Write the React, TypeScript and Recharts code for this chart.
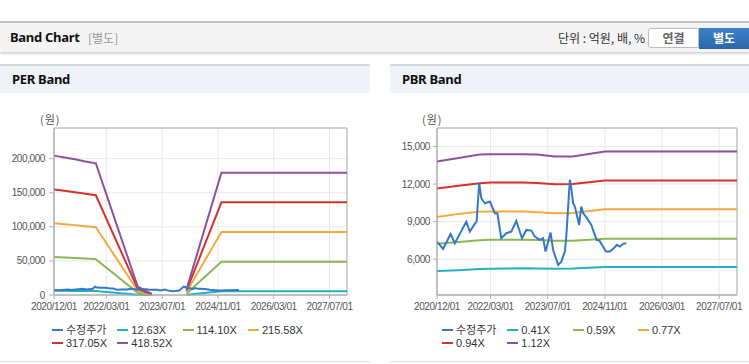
import React from "react";
import { LineChart, Line, XAxis, YAxis, CartesianGrid, ReferenceArea } from "recharts";

// x axis: months counted from 2020/12/01
const tickMonths = [0, 15, 31, 47, 63, 79];
const tickLabels = ["2020/12/01", "2022/03/01", "2023/07/01", "2024/11/01", "2026/03/01", "2027/07/01"];

// 수정주가 (adjusted price)
const priceMonths = [
  0, 1.7, 3.8, 5, 8.2, 9.2, 10.7, 11.1, 11.8, 12.4, 13.4, 14.8, 16.2, 16.9, 18, 19.4, 20.8, 22.2, 23.8, 25,
  26.4, 27.4, 28.8, 29.7, 30.4, 31.8, 32.5, 33.9, 34.8, 35.8, 36.2, 37.2, 37.6, 38.1, 38.6, 39.8, 40.4, 40.9,
  42, 43.2, 44.7, 45.5, 47.3, 48.4, 49.5, 50.4, 51.2, 52.1, 53,
];
const priceValues = [
  7410, 6830, 8020, 7280, 9000, 8210, 8880, 9000, 12100, 10870, 10470, 10600, 9680, 9680, 7680, 8080, 8210, 9050, 7680, 8340,
  8290, 7810, 7550, 7680, 6610, 8130, 6750, 5550, 5810, 6610, 7810, 12340, 11680, 10480, 10210, 8740, 10200, 9680,
  9280, 8740, 7550, 7480, 6610, 6610, 6880, 7150, 7010, 7230, 7280,
];

// PER band
const perMonths = [0, 3, 6, 9, 12, 24, 28, 33, 38, 48, 84];
const perNames = ["12.63X", "114.10X", "215.58X", "317.05X", "418.52X"];
const per1263 = [6170, 6090, 6010, 5910, 5830, 370, 45, null, 250, 5410, 5410];
const per11410 = [55750, 55000, 54260, 53400, 52650, 3330, 410, null, 2280, 48920, 48920];
const per21558 = [105330, 103910, 102510, 100890, 99470, 6300, 780, null, 4310, 92420, 92420];
const per31705 = [154910, 152820, 150760, 148380, 146290, 9260, 1140, null, 6340, 135920, 135920];
const per41852 = [204490, 201730, 199010, 195870, 193100, 12220, 1510, null, 8370, 179420, 179420];
const perTicks = [0, 50000, 100000, 150000, 200000];

// PBR band
const pbrMonths = [0, 6, 12, 15, 24, 28, 33, 38, 47, 84];
const pbrNames = ["0.41X", "0.59X", "0.77X", "0.94X", "1.12X"];
const pbr041 = [5070, 5130, 5220, 5250, 5280, 5260, 5240, 5260, 5380, 5380];
const pbr059 = [7230, 7380, 7520, 7550, 7560, 7540, 7470, 7480, 7640, 7640];
const pbr077 = [9380, 9620, 9800, 9820, 9820, 9760, 9680, 9690, 9980, 9980];
const pbr094 = [11640, 11860, 12060, 12120, 12130, 12080, 11990, 12000, 12290, 12290];
const pbr112 = [13800, 14070, 14350, 14380, 14380, 14350, 14200, 14200, 14600, 14600];
const pbrTicks = [6000, 9000, 12000, 15000];

const PRICE_COLOR = "#3378c9";
const BAND_COLORS = ["#21b1c7", "#8cb654", "#f4a93e", "#d6322c", "#8d51a0"];
const AXIS = "#b0b0b0";
const FONT = '"Noto Sans", "Noto Sans CJK KR", sans-serif';
const NUM_FONT = '"Liberation Sans", Arial, "Noto Sans CJK KR", sans-serif';
const KR_FONT = '"Noto Sans CJK KR", sans-serif';

const toRows = (months: number[], values: (number | null)[]) =>
  months.map((m, i) => ({ m, v: values[i] }));

const fmtDate = (v: number) => tickLabels[tickMonths.indexOf(v)] ?? "";
const fmtNum = (v: number) => v.toLocaleString("en-US");

type Series = { name: string; color: string; rows: { m: number; v: number | null }[] };

const priceSeries: Series = { name: "수정주가", color: PRICE_COLOR, rows: toRows(priceMonths, priceValues) };

const perSeries: Series[] = [per1263, per11410, per21558, per31705, per41852].map((vals, i) => ({
  name: perNames[i],
  color: BAND_COLORS[i],
  rows: toRows(perMonths, vals),
}));

const pbrSeries: Series[] = [pbr041, pbr059, pbr077, pbr094, pbr112].map((vals, i) => ({
  name: pbrNames[i],
  color: BAND_COLORS[i],
  rows: toRows(pbrMonths, vals),
}));

function BandPlot(props: {
  x: number;
  width: number;
  yWidth: number;
  right: number;
  domain: [number, number];
  yTicks: number[];
  yTickSize: number;
  yTickMargin: number;
  bands: Series[];
}) {
  const { x, width, yWidth, right, domain, yTicks, yTickSize, yTickMargin, bands } = props;
  const tick = { fill: "#555", fontSize: 10, fontFamily: NUM_FONT, letterSpacing: -0.4 };
  return (
    <div style={{ position: "absolute", left: x, top: 92 }}>
      <LineChart width={width} height={272} margin={{ top: 36, right, bottom: 49, left: 0 }}>
        <CartesianGrid stroke="#e8e8e8" />
        <XAxis
          type="number"
          dataKey="m"
          domain={[0, 84]}
          ticks={tickMonths}
          interval={0}
          tickFormatter={fmtDate}
          tick={tick}
          tickSize={4}
          tickMargin={4}
          height={20}
          axisLine={{ stroke: AXIS }}
          tickLine={{ stroke: AXIS }}
        />
        <YAxis
          type="number"
          domain={domain}
          ticks={yTicks}
          interval={0}
          tickFormatter={fmtNum}
          tick={tick}
          tickSize={yTickSize}
          tickMargin={yTickMargin}
          width={yWidth}
          axisLine={{ stroke: AXIS }}
          tickLine={{ stroke: AXIS }}
        />
        <ReferenceArea x1={0} x2={84} y1={domain[0]} y2={domain[1]} fill="none" stroke={AXIS} ifOverflow="visible" />
        {bands.map((s) => (
          <Line
            key={s.name}
            data={s.rows}
            dataKey="v"
            name={s.name}
            type="linear"
            stroke={s.color}
            strokeWidth={2}
            dot={false}
            activeDot={false}
            isAnimationActive={false}
          />
        ))}
        <Line
          data={priceSeries.rows}
          dataKey="v"
          name={priceSeries.name}
          type="linear"
          stroke={PRICE_COLOR}
          strokeWidth={2}
          dot={false}
          activeDot={false}
          isAnimationActive={false}
        />
      </LineChart>
    </div>
  );
}

function LegendBox({ left, items }: { left: number; items: Series[] }) {
  return (
    <div
      style={{
        position: "absolute",
        left,
        top: 324,
        width: 262,
        display: "flex",
        flexWrap: "wrap",
        fontSize: 11,
        lineHeight: "12.6px",
        color: "#333",
        fontFamily: NUM_FONT,
      }}
    >
      {items.map((it) => (
        <div key={it.name} style={{ width: 65.3, display: "flex", alignItems: "center", whiteSpace: "nowrap" }}>
          <span style={{ display: "inline-block", width: 11, height: 2, background: it.color, marginRight: 3 }} />
          {it.name}
        </div>
      ))}
    </div>
  );
}

function Panel({ left, width, title }: { left: number; width: number; title: string }) {
  return (
    <div
      style={{
        position: "absolute",
        left,
        top: 64,
        width,
        height: 298,
        borderTop: "2px solid #d9d9d9",
        borderBottom: "1px solid #dcdcdc",
        boxSizing: "border-box",
      }}
    >
      <div
        style={{
          height: 27,
          background: "#eff2f7",
          fontWeight: 700,
          fontSize: 13,
          lineHeight: "27px",
          paddingLeft: 12,
          color: "#111",
          fontFamily: FONT,
          letterSpacing: -0.3,
        }}
      >
        {title}
      </div>
    </div>
  );
}

export default function App() {
  return (
    <div
      style={{
        position: "absolute",
        left: 0,
        top: 0,
        width: 749,
        height: 364,
        background: "#fff",
        overflow: "hidden",
        fontFamily: FONT,
      }}
    >
      {/* header bar */}
      <div
        style={{
          position: "absolute",
          left: 0,
          top: 21,
          width: 749,
          height: 31,
          background: "#f4f4f4",
          borderTop: "2px solid #c2c2c2",
          boxSizing: "border-box",
          boxShadow: "0 2px 2px rgba(0,0,0,0.16)",
        }}
      >
        <span style={{ position: "absolute", left: 10, top: 0, lineHeight: "29px", fontSize: 13, fontWeight: 700, color: "#111", letterSpacing: -0.3 }}>
          Band Chart
        </span>
        <span style={{ position: "absolute", left: 88, top: 0, lineHeight: "29px", fontSize: 12, color: "#999", fontFamily: KR_FONT }}>
          [별도]
        </span>
        <span
          style={{
            position: "absolute",
            right: 104,
            top: 0,
            lineHeight: "29px",
            fontSize: 12,
            color: "#333",
            fontFamily: KR_FONT,
            whiteSpace: "pre",
          }}
        >
          단위 : 억원, 배, %
        </span>
        <div
          style={{
            position: "absolute",
            left: 648,
            top: 5,
            width: 51,
            height: 20,
            boxSizing: "border-box",
            border: "1px solid #bcbcbc",
            borderRadius: "3px 0 0 3px",
            background: "#fff",
            color: "#666",
            fontWeight: 700,
            fontSize: 12,
            lineHeight: "18px",
            textAlign: "center",
            fontFamily: KR_FONT,
          }}
        >
          연결
        </div>
        <div
          style={{
            position: "absolute",
            left: 699,
            top: 5,
            width: 50,
            height: 21,
            background: "linear-gradient(#3f80c7, #2a67ab)",
            color: "#fff",
            fontWeight: 700,
            fontSize: 12,
            lineHeight: "20px",
            textAlign: "center",
            fontFamily: KR_FONT,
          }}
        >
          별도
        </div>
      </div>

      <Panel left={0} width={370} title="PER Band" />
      <Panel left={390} width={359} title="PBR Band" />

      <div style={{ position: "absolute", left: 40, top: 111, fontSize: 11, color: "#555", fontFamily: KR_FONT, letterSpacing: 1 }}>(원)</div>
      <div style={{ position: "absolute", left: 422, top: 111, fontSize: 11, color: "#555", fontFamily: KR_FONT, letterSpacing: 1 }}>(원)</div>

      <BandPlot
        x={0}
        width={370}
        yWidth={54}
        right={23}
        domain={[0, 245000]}
        yTicks={perTicks}
        yTickSize={5}
        yTickMargin={4}
        bands={perSeries}
      />
      <BandPlot
        x={380}
        width={369}
        yWidth={57}
        right={12}
        domain={[3150, 16470]}
        yTicks={pbrTicks}
        yTickSize={4}
        yTickMargin={3}
        bands={pbrSeries}
      />

      <LegendBox left={52} items={[priceSeries, ...perSeries]} />
      <LegendBox left={442} items={[priceSeries, ...pbrSeries]} />
    </div>
  );
}
